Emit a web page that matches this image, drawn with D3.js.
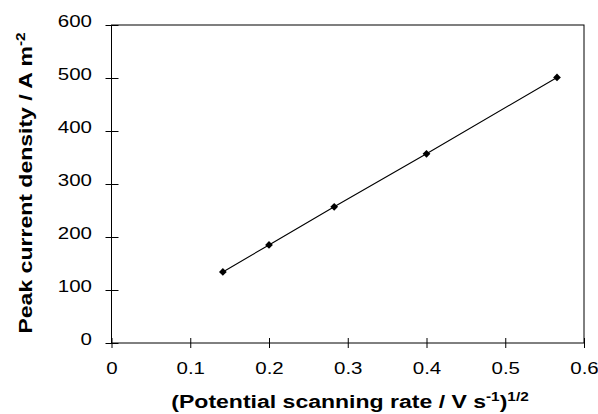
<!DOCTYPE html>
<html><head><meta charset="utf-8">
<script src="https://cdn.jsdelivr.net/npm/d3@7"></script>
<style>body{margin:0;background:#fff}svg{display:block}</style>
</head><body>
<svg id="c" width="598" height="414"></svg>
<script>
const xValues = [0.1414, 0.2, 0.2828, 0.4, 0.5657];
const yValues = [134, 185, 257, 357, 501];
const xTicks = [0, 0.1, 0.2, 0.3, 0.4, 0.5, 0.6];
const yTicks = [0, 100, 200, 300, 400, 500, 600];

const svg = d3.select("#c");
const L = 111.5, R = 584, T = 25, B = 343;
const x = d3.scaleLinear().domain([0, 0.6]).range([L, R]);
const y = d3.scaleLinear().domain([0, 600]).range([B, T]);
const font = "'Liberation Sans', Arial, sans-serif";
const SX = 1.28;

// frame
svg.append("rect").attr("x", L).attr("y", T).attr("width", R - L).attr("height", B - T)
  .attr("fill", "none").attr("stroke", "#000").attr("stroke-width", 1);

// x axis
const xa = svg.append("g").attr("transform", `translate(0,${B})`)
  .call(d3.axisBottom(x).tickValues(xTicks).tickFormat(d3.format("")).tickSizeInner(5).tickSizeOuter(0).tickPadding(14));
xa.select(".domain").remove();
xa.selectAll(".tick line").attr("y1", -5).attr("y2", 5).attr("stroke", "#000");
xa.selectAll("text").attr("font-family", font).attr("font-size", 16).attr("fill", "#000")
  .attr("y", null).attr("dy", null)
  .attr("transform", `translate(0,${373.5 - B}) scale(${SX},1)`);

// y axis
const ya = svg.append("g").attr("transform", `translate(${L},0)`)
  .call(d3.axisLeft(y).tickValues(yTicks).tickSizeInner(6).tickSizeOuter(0).tickPadding(12));
ya.select(".domain").remove();
ya.selectAll(".tick line").attr("x1", -6).attr("x2", 7).attr("stroke", "#000");
ya.selectAll("text").attr("font-family", font).attr("font-size", 16).attr("fill", "#000")
  .attr("x", null).attr("dy", "0.12em")
  .attr("transform", `translate(${92 - L},0) scale(${SX},1)`);

// line
const pts = xValues.map((v, i) => [v, yValues[i]]);
svg.append("path").datum(pts)
  .attr("d", d3.line().x(d => x(d[0])).y(d => y(d[1])))
  .attr("fill", "none").attr("stroke", "#000").attr("stroke-width", 1.1);

// markers (diamonds)
svg.append("g").selectAll("path").data(pts).join("path")
  .attr("transform", d => `translate(${x(d[0])},${y(d[1])}) rotate(45)`)
  .attr("d", d3.symbol().type(d3.symbolSquare).size(30))
  .attr("fill", "#000");

// x title
const xt = svg.append("text")
  .attr("transform", `translate(350,408) scale(${SX},1)`)
  .attr("text-anchor", "middle").attr("font-family", font).attr("font-size", 18)
  .attr("font-weight", "bold").attr("fill", "#000");
xt.append("tspan").text("(Potential scanning rate / V s");
xt.append("tspan").attr("dy", -7).attr("font-size", 12).text("-1");
xt.append("tspan").attr("dy", 7).text(")");
xt.append("tspan").attr("dy", -7).attr("font-size", 12).text("1/2");

// y title
const yt = svg.append("text")
  .attr("transform", `translate(32,183) rotate(-90) scale(${SX},1)`)
  .attr("text-anchor", "middle").attr("font-family", font).attr("font-size", 18)
  .attr("font-weight", "bold").attr("fill", "#000");
yt.append("tspan").text("Peak current density / A m");
yt.append("tspan").attr("dy", -7).attr("font-size", 12).text("-2");
</script>
</body></html>
